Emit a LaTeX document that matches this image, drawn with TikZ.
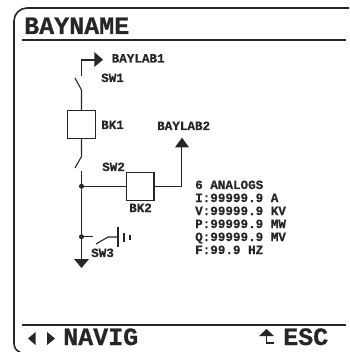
\documentclass[tikz,border=0pt]{standalone}
\usepackage{fontspec}
\setmainfont{Liberation Mono}[BoldFont={Liberation Mono Bold},BoldFeatures={FakeBold=0.6}]
\newcommand{\lab}{\fontsize{12.6}{12.6}\selectfont\bfseries}
\newcommand{\bigt}{\fontsize{25}{25}\selectfont\bfseries}
\tikzset{x=1pt,y=-1pt,
  wire/.style={draw=black!85,line width=1.1pt},
  frameline/.style={draw=black!85,line width=1.6pt},
  box/.style={draw=black!85,line width=1.1pt,fill=white,minimum width=27.5pt,minimum height=27.5pt,inner sep=0pt},
  lbl/.style={inner sep=0pt,anchor=base west,text=black!85,font=\lab},
  head/.style={inner sep=0pt,anchor=base west,text=black!85,font=\bigt},
  dot/.style={circle,fill=black!85,inner sep=0pt,minimum size=5pt},
  tip/.style={fill=black!85,draw=none}}
\begin{document}
\begin{tikzpicture}
\useasboundingbox (0,0) rectangle (349,352);
\draw[frameline] (349,8) -- (27,8) .. controls (19.8,8) and (14,13.8) .. (14,21) -- (14,343) .. controls (14,347) and (16,351) .. (20,352);
\draw[frameline] (22,40) -- (346,40);
\draw[frameline] (22,325) -- (346,325);
\node[head] at (24,34) {BAYNAME};
\node[head] (nav) at (63,345) {NAVIG};
\node[head] (esc) at (283,345) {ESC};
\fill[tip] (28,338.5) -- (35.5,332) -- (35.5,345) -- cycle;
\fill[tip] (55,338.5) -- (47,332) -- (47,345) -- cycle;
\fill[tip] (259,336) -- (266.5,329) -- (274,336) -- cycle;
\draw[draw=black!85,line width=1.6pt] (266.5,336) -- (266.5,343) -- (274,343);
\node[box] (bk1) at (81.5,124.5) {};
\node[box] (bk2) at (140.2,186.3) {};
\node[lbl] at (101,129) {BK1};
\node[lbl] at (129,212) {BK2};
\node[lbl] at (101,82) {SW1};
\node[lbl] at (102,171) {SW2};
\node[lbl] at (91,257) {SW3};
\node[lbl] at (111.5,62.5) {BAYLAB1};
\node[lbl] at (157,130) {BAYLAB2};
\node[lbl] at (195,189) {6 ANALOGS};
\node[lbl] at (195,202) {I:99999.9 A};
\node[lbl] at (195,215) {V:99999.9 KV};
\node[lbl] at (195,228) {P:99999.9 MW};
\node[lbl] at (195,241) {Q:99999.9 MV};
\node[lbl] at (195,254) {F:99.9 HZ};
\coordinate (sw1top) at (81.5,76);
\coordinate (c1) at (81.5,60);
\coordinate (a1) at (95,60);
\fill[tip] (94.3,52) -- (103,59.7) -- (94.3,67) -- cycle;
\draw[wire] (sw1top) -- (c1) -- (a1);
\draw[wire] (75,78) -- (81.5,90) -- (bk1.north);
\draw[wire] (bk1.south) -- (81.5,156.5) -- (75,168);
\node[dot] (j1) at (81.5,186.3) {};
\node[dot] (j2) at (81.5,236.7) {};
\draw[wire] (81.5,171) -- (j1) -- (j2) -- (81.5,260);
\fill[tip] (74,259) -- (89,259) -- (81.5,268) -- cycle;
\draw[wire] (j1) -- (bk2.west);
\draw[wire] (bk2.east) -- (181.7,186.3) -- (181.7,146);
\fill[tip] (175,147.3) -- (182,137.7) -- (189,147.3) -- cycle;
\draw[wire] (j2) -- (93,236.7);
\draw[wire] (96,244) -- (108,237) -- (118,237);
\draw[wire] (118,227) -- (118,247);
\draw[wire] (124,233) -- (124,242);
\draw[wire] (130,235) -- (130,240);
\end{tikzpicture}
\end{document}
